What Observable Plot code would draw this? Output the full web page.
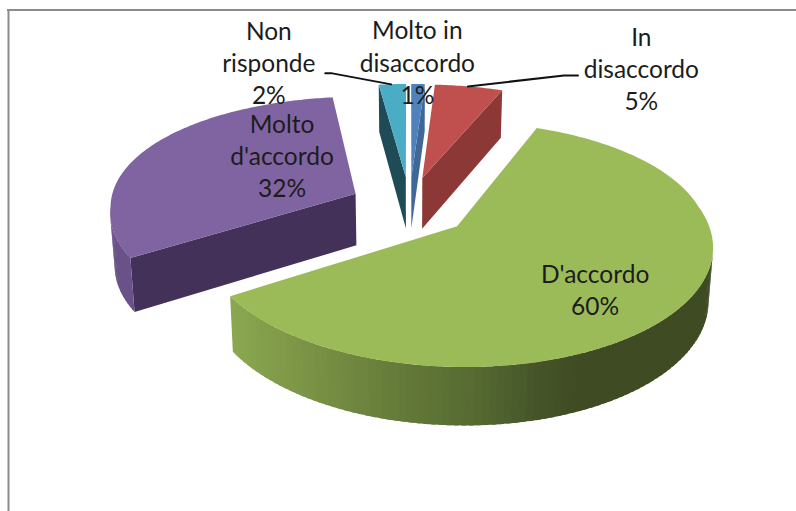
<!DOCTYPE html>
<html>
<head>
<meta charset="utf-8">
<script src="https://cdn.jsdelivr.net/npm/d3@7"></script>
<script src="https://cdn.jsdelivr.net/npm/@observablehq/plot@0.6"></script>
<style>html,body{margin:0;padding:0;background:#fff}svg{display:block}</style>
</head>
<body>
<div id="chart"></div>
<script>
const categories = ["Molto in disaccordo", "In disaccordo", "D'accordo", "Molto d'accordo", "Non risponde"];
const values = [1, 5, 60, 32, 2];
const labelNames = ["Molto in\ndisaccordo", "In\ndisaccordo", "D'accordo", "Molto\nd'accordo", "Non\nrisponde"];
const topColors = ["#4f81bd", "#c0504d", "#9bbb59", "#8064a2", "#4bacc6"];
const faceColors = ["#3f6898", "#8c3836", "#4f5f2d", "#43315a", "#1f4b56"];
const labelOffsets = [[6, -116], [219, -110], [138, 62], [-73.5, -39], [-137, -116]];

// 3-D pie projection
const cx = 409, cy = 206, Rx = 246, Ry = 114.4, persp = 0.143, perspFarX = 0.1;
const Ex = 0.245, Ey = 0.265, depth = 52;
const project = (U, V, bottom) => {
  const k = 1 / (1 - persp * V);
  const kx = V < 0 ? 1 / (1 - perspFarX * V) : k;
  return bottom
    ? [cx + Rx * 0.985 * U * kx, cy + depth + Ry * 1.04 * V * k]
    : [cx + Rx * U * kx, cy + Ry * V * k];
};
const total = d3.sum(values);
let acc = 0;
const slices = values.map((v, i) => {
  const a0 = acc / total * 2 * Math.PI;
  acc += v;
  const a1 = acc / total * 2 * Math.PI;
  const am = (a0 + a1) / 2;
  return {i, a0, a1, am, ux: Math.sin(am), vx: -Math.cos(am)};
});
const rim = (s, a, bottom) => project(Math.sin(a) + Ex * s.ux, -Math.cos(a) + Ey * s.vx, bottom);
const apex = (s, bottom) => project(Ex * s.ux, Ey * s.vx, bottom);

const greenWall = d3.scaleLinear()
  .domain([232, 300, 396, 470, 530, 575, 720])
  .range(["#8aa750", "#7c9446", "#647a39", "#566a31", "#465629", "#3f4b23", "#3f4b23"]);
const wallColor = (s, x) =>
  s.i === 2 ? greenWall(x) : s.i === 3 ? "#6a5289" : faceColors[s.i];

const polys = [];
let pid = 0;
const addPoly = (pts, fill) => {
  const z = pid++;
  pts.forEach(p => polys.push({x: p[0], y: p[1], z, fill}));
};
// back-to-front drawing order
for (const i of [4, 0, 1, 3, 2]) {
  const s = slices[i];
  const step = Math.PI / 120;
  // only the cut faces that turn toward the viewer
  if (Math.sin(s.a0) < -1e-6) addPoly([apex(s, false), rim(s, s.a0, false), rim(s, s.a0, true), apex(s, true)], faceColors[i]);
  if (Math.sin(s.a1) > 1e-6) addPoly([apex(s, false), rim(s, s.a1, false), rim(s, s.a1, true), apex(s, true)], faceColors[i]);
  // outer wall: visible segments only, each overlapping the one before
  for (let a = s.a0; a < s.a1 - 1e-9; a += step) {
    const b = Math.min(a + step, s.a1);
    const q = [rim(s, a, false), rim(s, b, false), rim(s, b, true), rim(s, a, true)];
    if (d3.polygonArea(q) <= 0) continue;
    const a2 = Math.max(a - step * 0.6, s.a0);
    const q2 = [rim(s, a2, false), rim(s, b, false), rim(s, b, true), rim(s, a2, true)];
    addPoly(q2, wallColor(s, d3.mean(q, p => p[0])));
  }
  // top surface
  const top = [apex(s, false)];
  for (let a = s.a0; a < s.a1; a += step / 2) top.push(rim(s, a, false));
  top.push(rim(s, s.a1, false));
  addPoly(top, topColors[i]);
}

// leader lines run from the slice rim towards their label
const tealEnd = rim(slices[4], slices[4].a0 + 0.03, false);
const redEnd = rim(slices[1], slices[1].am, false);
const leaders = [
  [[tealEnd[0] - 60, tealEnd[1] - 11], [tealEnd[0] - 53, tealEnd[1] - 11], [tealEnd[0] + 6, tealEnd[1]]],
  [[redEnd[0] + 109, redEnd[1] - 11], [redEnd[0] + 95, redEnd[1] - 11], [redEnd[0] - 1, redEnd[1]]]
].flatMap((pts, z) => pts.map(p => ({x: p[0], y: p[1], z})));

const labelMarks = slices.map(s => {
  const a = apex(s, false);
  return Plot.text([{x: a[0], y: a[1], t: `${labelNames[s.i]}\n${values[s.i]}%`}], {
    x: "x", y: "y", text: "t",
    dx: labelOffsets[s.i][0], dy: labelOffsets[s.i][1],
    textAnchor: "middle", lineAnchor: "middle", lineHeight: 1.31,
    fontSize: 24.5, fill: "#1c1c1c"
  });
});

const chart = Plot.plot({
  width: 796, height: 511,
  marginTop: 0, marginRight: 0, marginBottom: 0, marginLeft: 0,
  style: {fontFamily: "Lato, 'Open Sans', sans-serif", background: "#fff"},
  x: {domain: [0, 796], range: [0, 796], axis: null},
  y: {domain: [0, 511], range: [0, 511], axis: null},
  color: {type: "identity"},
  marks: [
    Plot.line(polys, {x: "x", y: "y", z: "z", fill: "fill", stroke: "none", curve: "linear-closed"}),
    Plot.line(leaders, {x: "x", y: "y", z: "z", stroke: "#111", strokeWidth: 2}),
    ...labelMarks,
    Plot.ruleY([9.5], {x1: 7, x2: 796, stroke: "#8c8c8c", strokeWidth: 2}),
    Plot.ruleX([8], {y1: 9, y2: 511, stroke: "#8c8c8c", strokeWidth: 2})
  ]
});
document.getElementById("chart").append(chart);
</script>
</body>
</html>
